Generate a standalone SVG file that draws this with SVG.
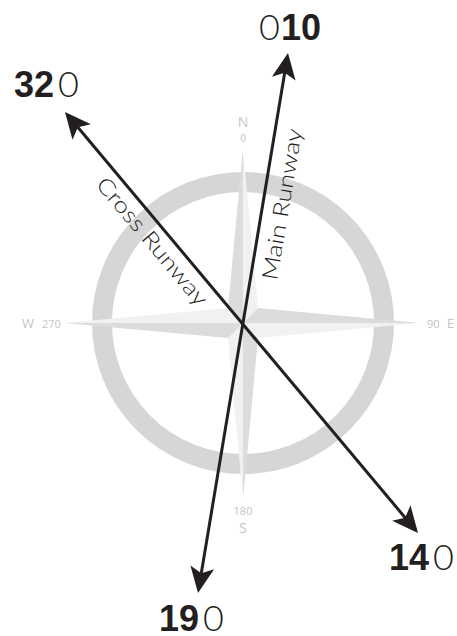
<svg xmlns="http://www.w3.org/2000/svg" width="457" height="636" viewBox="0 0 457 636">
<defs>
<style>
.dk{fill:#dcdcdc}
.lt{fill:#f1f1f1}
.cl{font-family:"Open Sans","DejaVu Sans",sans-serif;fill:#c4c4c4}
.rw{stroke:#231f20;stroke-width:3;fill:none;marker-start:url(#ah);marker-end:url(#ah)}
.big{font-family:"Liberation Sans",Arial,sans-serif;font-size:36px;fill:#231f20}
.b{font-weight:bold}
.l{font-family:Lato,"Liberation Sans",sans-serif;font-weight:300}
.lbl{font-family:Lato,"Liberation Sans",sans-serif;font-weight:300;font-size:22px;fill:#231f20}
</style>
<marker id="ah" viewBox="-24 -14 30 28" markerWidth="30" markerHeight="28" refX="0" refY="0" orient="auto-start-reverse" markerUnits="userSpaceOnUse">
<path d="M4,0 L-22,-12 L-16,0 L-22,12 Z" fill="#231f20"/>
</marker>
</defs>
<g id="compass">
<circle cx="243" cy="323" r="141" fill="none" stroke="#d6d6d6" stroke-width="20"/>
<polygon class="dk" points="243,148 228,308 243,323"/>
<polygon class="lt" points="243,148 258,308 243,323"/>
<polygon class="dk" points="420,323 258,308 243,323"/>
<polygon class="lt" points="420,323 258,338 243,323"/>
<polygon class="dk" points="243,499 258,338 243,323"/>
<polygon class="lt" points="243,499 228,338 243,323"/>
<polygon class="dk" points="64,323 228,338 243,323"/>
<polygon class="lt" points="64,323 228,308 243,323"/>
<text class="cl" x="243" y="127" font-size="14" text-anchor="middle">N</text>
<text class="cl" x="243" y="142" font-size="10" text-anchor="middle">0</text>
<text class="cl" x="22" y="328" font-size="13">W</text>
<text class="cl" x="42" y="328" font-size="11">270</text>
<text class="cl" x="427" y="328" font-size="11">90</text>
<text class="cl" x="447" y="328" font-size="13">E</text>
<text class="cl" x="243" y="515" font-size="11" text-anchor="middle">180</text>
<text class="cl" x="243" y="533" font-size="14" text-anchor="middle">S</text>
</g>
<g id="connectors">
<line id="main-runway" class="rw" x1="198.66" y1="589.05" x2="287.34" y2="56.95"/>
<line id="cross-runway" class="rw" x1="67.57" y1="115.07" x2="415.43" y2="529.93"/>
</g>
<g id="main-runway-label">
<text class="lbl" transform="translate(277,281) rotate(-80.54)" textLength="153" lengthAdjust="spacingAndGlyphs">Main Runway</text>
</g>
<g id="cross-runway-label">
<text class="lbl" transform="translate(95,185) rotate(50)" textLength="160" lengthAdjust="spacingAndGlyphs">Cross Runway</text>
</g>
<g id="h010">
<text class="big"><tspan class="l" x="259" y="40">0</tspan><tspan class="b" x="281" y="40">10</tspan></text>
</g>
<g id="h320">
<text class="big"><tspan class="b" x="14" y="97">32</tspan><tspan class="l" x="58" y="97">0</tspan></text>
</g>
<g id="h140">
<text class="big"><tspan class="b" x="389" y="570">14</tspan><tspan class="l" x="433" y="570">0</tspan></text>
</g>
<g id="h190">
<text class="big"><tspan class="b" x="159" y="631">19</tspan><tspan class="l" x="203" y="631">0</tspan></text>
</g>
</svg>
